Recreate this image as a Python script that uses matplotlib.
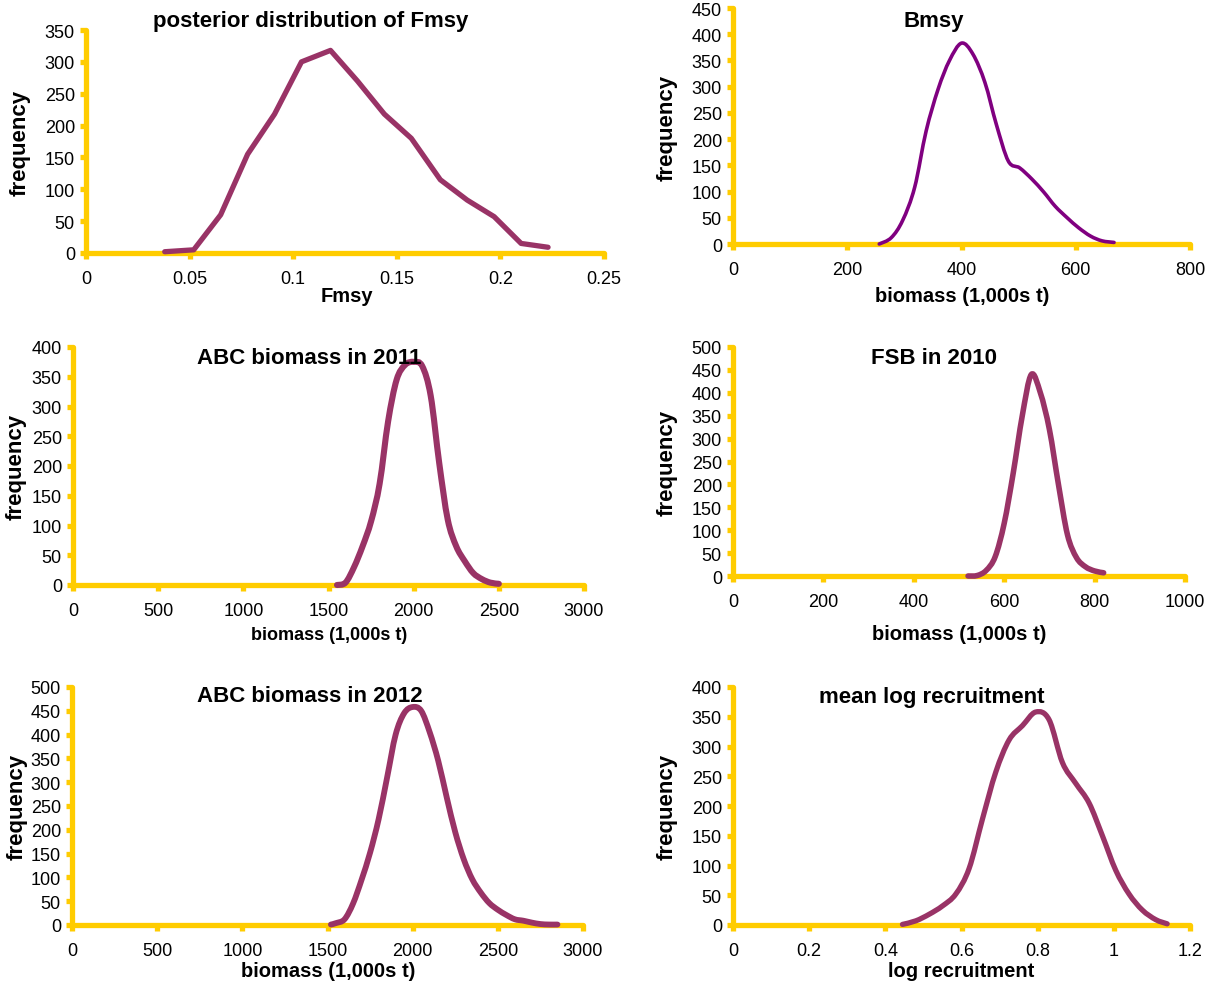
import numpy as np
import matplotlib
matplotlib.use("Agg")
import matplotlib.pyplot as plt
from matplotlib.path import Path
from matplotlib.patches import PathPatch

plt.rcParams['font.family'] = ['Liberation Sans', 'DejaVu Sans']

# ---------------- data ----------------
fmsy_x = [0.038, 0.052, 0.065, 0.078, 0.091, 0.104, 0.118, 0.131, 0.144,
          0.157, 0.171, 0.184, 0.197, 0.210, 0.223]
fmsy_y = [2, 5, 60, 155, 218, 300, 318, 270, 218, 180, 115, 83, 57, 15, 9]

bmsy_x = [256, 277, 297, 318, 338, 359, 379, 400, 420, 441, 461, 482, 502,
          523, 544, 564, 585, 605, 626, 646, 667]
bmsy_y = [0, 12, 45, 108, 215, 295, 350, 383, 362, 308, 228, 158, 145,
          124, 99, 72, 50, 31, 15, 6, 3]

abc11_x = [1550, 1600, 1650, 1700, 1750, 1800, 1850, 1900, 1950, 2000,
           2050, 2100, 2150, 2200, 2250, 2300, 2350, 2400, 2450, 2500]
abc11_y = [0, 4, 30, 65, 107, 170, 275, 345, 370, 375,
           368, 318, 205, 110, 65, 40, 20, 10, 4, 2]

fsb_x = [520, 540, 560, 580, 600, 620, 640, 660, 680, 700, 720, 740,
         760, 780, 800, 820]
fsb_y = [0, 1, 12, 42, 115, 225, 350, 440, 400, 320, 200, 90,
         40, 20, 11, 7]

abc12_x = [1520, 1550, 1600, 1650, 1700, 1750, 1800, 1850, 1900, 1950,
           2000, 2050, 2100, 2150, 2200, 2250, 2300, 2350, 2400, 2450,
           2500, 2550, 2600, 2650, 2700, 2750, 2800, 2850]
abc12_y = [1, 4, 12, 45, 95, 152, 222, 310, 400, 445,
           458, 450, 405, 345, 268, 195, 138, 96, 68, 46,
           32, 21, 12, 9, 5, 2, 1, 1]

rec_x = [0.445, 0.48, 0.515, 0.55, 0.585, 0.62, 0.655, 0.69, 0.725, 0.76,
         0.795, 0.83, 0.865, 0.90, 0.935, 0.97, 1.005, 1.04, 1.075, 1.11, 1.14]
rec_y = [1, 7, 18, 32, 52, 95, 178, 257, 311, 335,
         358, 345, 273, 238, 205, 150, 92, 52, 25, 9, 2]

titles = ["posterior distribution of Fmsy", "Bmsy", "ABC biomass in 2011",
          "FSB in 2010", "ABC biomass in 2012", "mean log recruitment"]
xlabels = ["Fmsy", "biomass (1,000s t)", "biomass (1,000s t)",
           "biomass (1,000s t)", "biomass (1,000s t)", "log recruitment"]
ylabel = "frequency"

xtick_vals = [[0, 0.05, 0.1, 0.15, 0.2, 0.25],
              [0, 200, 400, 600, 800],
              [0, 500, 1000, 1500, 2000, 2500, 3000],
              [0, 200, 400, 600, 800, 1000],
              [0, 500, 1000, 1500, 2000, 2500, 3000],
              [0, 0.2, 0.4, 0.6, 0.8, 1.0, 1.2]]
xtick_labels = [["0", "0.05", "0.1", "0.15", "0.2", "0.25"],
                ["0", "200", "400", "600", "800"],
                ["0", "500", "1000", "1500", "2000", "2500", "3000"],
                ["0", "200", "400", "600", "800", "1000"],
                ["0", "500", "1000", "1500", "2000", "2500", "3000"],
                ["0", "0.2", "0.4", "0.6", "0.8", "1", "1.2"]]
ymax_vals = [350, 450, 400, 500, 500, 400]

series_x = [fmsy_x, bmsy_x, abc11_x, fsb_x, abc12_x, rec_x]
series_y = [fmsy_y, bmsy_y, abc11_y, fsb_y, abc12_y, rec_y]

# ---------------- styling / layout ----------------
W, H = 1212, 987
GOLD = "#FFCC00"
PLUM = "#993366"
PURPLE = "#800080"
line_colors = [PLUM, PURPLE, PLUM, PLUM, PLUM, PLUM]
line_widths = [3.8, 2.6, 4.4, 4.0, 4.2, 3.8]
smooth = [False, True, True, True, True, True]

# axes boxes in pixels: (left, top, right, bottom)
boxes = [(86, 31, 604, 254), (733, 9, 1190, 245),
         (73, 348, 584, 586), (733, 348, 1185, 577),
         (72, 688, 583, 926), (733, 688, 1190, 926)]
title_pos = [(311, 22), (934, 22), (309, 359), (934, 359), (310, 697), (932, 697)]
xlabel_pos = [(347, 297), (962, 297), (329, 636), (959, 635), (328, 972), (961, 972)]
ylabel_pos = [(20, 143), (667, 128), (16, 467), (667, 463), (17, 807), (667, 807)]
xlabel_size = [14.5, 14.5, 13, 14.5, 14.5, 14.5]


def px(x, y):
    return x / W, 1 - y / H


def smooth_path(xs, ys):
    """Bezier path through the points (Catmull-Rom style tangents)."""
    pts = np.column_stack([xs, ys]).astype(float)
    n = len(pts)
    verts = [pts[0]]
    codes = [Path.MOVETO]
    for i in range(n - 1):
        p0 = pts[i - 1] if i > 0 else pts[i]
        p1 = pts[i]
        p2 = pts[i + 1]
        p3 = pts[i + 2] if i + 2 < n else pts[i + 1]
        c1 = p1 + (p2 - p0) / 6.0
        c2 = p2 - (p3 - p1) / 6.0
        verts += [c1, c2, p2]
        codes += [Path.CURVE4] * 3
    return Path(verts, codes)


fig = plt.figure(figsize=(W / 100, H / 100), dpi=100)

for i in range(6):
    l, t, r, b = boxes[i]
    x0, y0 = px(l, b)
    x1, y1 = px(r, t)
    ax = fig.add_axes([x0, y0, x1 - x0, y1 - y0])
    ticks = xtick_vals[i]
    ax.set_xlim(ticks[0], ticks[-1])
    ax.set_ylim(0, ymax_vals[i])
    ax.set_xticks(ticks)
    ax.set_xticklabels(xtick_labels[i])
    yt = list(range(0, ymax_vals[i] + 1, 50))
    ax.set_yticks(yt)
    ax.set_yticklabels([str(v) for v in yt])

    for s in ["top", "right"]:
        ax.spines[s].set_visible(False)
    for s in ["left", "bottom"]:
        ax.spines[s].set_color(GOLD)
        ax.spines[s].set_linewidth(3.8)
        ax.spines[s].set_capstyle("round")
    ax.tick_params(axis="x", direction="out", length=4, width=3.8,
                   color=GOLD, labelsize=13, pad=8, labelcolor="black")
    ax.tick_params(axis="y", direction="out", length=4, width=3.8,
                   color=GOLD, labelsize=13, pad=4, labelcolor="black")
    ax.set_facecolor("none")

    if smooth[i]:
        patch = PathPatch(smooth_path(series_x[i], series_y[i]), fill=False,
                          edgecolor=line_colors[i], lw=line_widths[i],
                          capstyle="round", joinstyle="round",
                          zorder=3, clip_on=False)
        ax.add_patch(patch)
    else:
        ax.plot(series_x[i], series_y[i], color=line_colors[i],
                lw=line_widths[i], solid_capstyle="round",
                solid_joinstyle="round", zorder=3, clip_on=False)

    fig.text(*px(*title_pos[i]), titles[i], ha="center", va="center",
             fontsize=16, fontweight="bold")
    fig.text(*px(*xlabel_pos[i]), xlabels[i], ha="center", va="center",
             fontsize=xlabel_size[i], fontweight="bold")
    fig.text(*px(*ylabel_pos[i]), ylabel, ha="center", va="center",
             fontsize=16, fontweight="bold", rotation=90)

fig.savefig("out.png", dpi=100, facecolor="white")
